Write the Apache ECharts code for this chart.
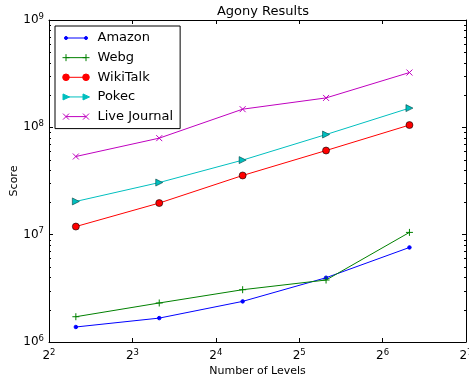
<!DOCTYPE html>
<html><head><meta charset="utf-8">
<script src="https://cdn.jsdelivr.net/npm/echarts@6/dist/echarts.min.js"></script>
<style>html,body{margin:0;padding:0;background:#fff}#c{width:469px;height:381px}</style>
</head><body><div id="c"></div>
<script>
const levels = [5, 10, 20, 40, 80];
const amazon = [1.38e6, 1.67e6, 2.39e6, 3.97e6, 7.6e6];
const webg = [1.72e6, 2.31e6, 3.07e6, 3.78e6, 1.05e7];
const wikiTalk = [1.19e7, 1.97e7, 3.56e7, 6.08e7, 1.05e8];
const pokec = [2.04e7, 3.06e7, 4.95e7, 8.57e7, 1.51e8];
const liveJournal = [5.35e7, 7.93e7, 1.476e8, 1.88e8, 3.24e8];
const seriesNames = ['Amazon', 'Webg', 'WikiTalk', 'Pokec', 'Live Journal'];
const yMinorMultipliers = [2, 3, 4, 5, 6, 7, 8, 9];
const yDecades = [1e6, 1e7, 1e8];

const FONT = 'DejaVu Sans';
const pair = arr => arr.map((v, i) => [levels[i], v]);

const supRich = {
  b: { fontSize: 12, fontFamily: FONT, color: '#000', lineHeight: 16 },
  s: { fontSize: 8.5, fontFamily: FONT, color: '#000', verticalAlign: 'top', lineHeight: 10 }
};

function mk(name, data, color, symbol, size, extra) {
  return Object.assign({
    name, type: 'line', data: pair(data), symbol, symbolSize: size,
    showSymbol: true,
    lineStyle: { color, width: 1 },
    itemStyle: { color, borderColor: color, borderWidth: 1 },
    emphasis: { disabled: true }, animation: false
  }, extra || {});
}

// Legend icons (matplotlib style: line with a marker at each end), 27x7 box
const BOX = 'M0,0M27,7';
const LINE = 'M3.5,3.5L23.5,3.5';
const circ = (cx, r) => `M${cx - r},3.5A${r},${r},0,1,1,${cx + r},3.5A${r},${r},0,1,1,${cx - r},3.5Z`;
const legendIcons = {
  'Amazon': 'path://' + BOX + LINE + circ(3.5, 1.5) + circ(23.5, 1.5),
  'Webg': 'path://' + BOX + LINE + 'M3.5,0L3.5,7M0,3.5L7,3.5M23.5,0L23.5,7M20,3.5L27,3.5',
  'WikiTalk': 'path://' + BOX + LINE + circ(3.5, 3.3) + circ(23.5, 3.3),
  'Pokec': 'path://' + BOX + LINE + 'M0.5,0.5L7,3.5L0.5,6.5ZM20.5,0.5L27,3.5L20.5,6.5Z',
  'Live Journal': 'path://' + BOX + LINE + 'M0.5,0.5L6.5,6.5M6.5,0.5L0.5,6.5M20.5,0.5L26.5,6.5M26.5,0.5L20.5,6.5'
};
const legendStyles = {
  'Amazon': { color: '#0000ff', borderColor: '#0000ff', borderWidth: 1 },
  'Webg': { color: 'none', borderColor: '#008000', borderWidth: 1 },
  'WikiTalk': { color: '#ff0000', borderColor: '#ff0000', borderWidth: 1 },
  'Pokec': { color: '#00bfbf', borderColor: '#00bfbf', borderWidth: 1 },
  'Live Journal': { color: 'none', borderColor: '#bf00bf', borderWidth: 1 }
};

const chart = echarts.init(document.getElementById('c'), null, { renderer: 'canvas' });
const axisCommon = {
  type: 'log',
  axisLine: { show: true, lineStyle: { color: '#000', width: 1 } },
  axisTick: { show: true, inside: true, length: 4, lineStyle: { color: '#000' } },
  splitLine: { show: false },
  minorTick: { show: false }
};
chart.setOption({
  animation: false,
  title: { text: 'Agony Results', left: 258, textAlign: 'center', top: 0,
    textStyle: { fontFamily: FONT, fontSize: 13, fontWeight: 'normal', color: '#000' } },
  grid: { left: 49, right: 3, top: 20, bottom: 39, outerBoundsMode: 'none', containLabel: false },
  legend: {
    data: seriesNames.map(n => ({ name: n, icon: legendIcons[n], itemStyle: legendStyles[n] })),
    orient: 'vertical', left: 55, top: 26,
    padding: [4, 7, 4, 5], itemGap: 3.65, itemWidth: 27, itemHeight: 7,
    symbolKeepAspect: true,
    backgroundColor: '#fff', borderColor: '#000', borderWidth: 1, borderRadius: 0,
    textStyle: { fontFamily: FONT, fontSize: 13, color: '#000', padding: [0, 0, 0, 3], lineHeight: 16 },
    selectedMode: false
  },
  xAxis: [
    Object.assign({}, axisCommon, { logBase: 2, min: 4, max: 128, position: 'bottom',
      name: 'Number of Levels', nameLocation: 'middle', nameGap: 24, nameMoveOverlap: false,
      nameTextStyle: { fontFamily: FONT, fontSize: 11, color: '#000' },
      axisLabel: { margin: 6, formatter: v => '{b|2}{s|' + Math.round(Math.log2(v)) + '}', rich: supRich } }),
    Object.assign({}, axisCommon, { logBase: 2, min: 4, max: 128, position: 'top',
      axisLabel: { show: false } })
  ],
  yAxis: [
    Object.assign({}, axisCommon, { logBase: 10, min: 1e6, max: 1e9, position: 'left',
      name: 'Score', nameLocation: 'middle', nameGap: 29, nameMoveOverlap: false,
      nameTextStyle: { fontFamily: FONT, fontSize: 11, color: '#000' },
      axisLabel: { margin: 5, formatter: v => '{b|10}{s|' + Math.round(Math.log10(v)) + '}', rich: supRich } }),
    Object.assign({}, axisCommon, { logBase: 10, min: 1e6, max: 1e9, position: 'right',
      axisLabel: { show: false } })
  ],
  series: [
    mk('Amazon', amazon, '#0000ff', 'circle', 3.5),
    mk('Webg', webg, '#008000', 'path://M5,0L5,10M0,5L10,5', 7, { itemStyle: { color: 'none', borderColor: '#008000', borderWidth: 1 } }),
    mk('WikiTalk', wikiTalk, '#ff0000', 'circle', 7, { itemStyle: { color: '#ff0000', borderColor: '#000', borderWidth: 0.6 } }),
    mk('Pokec', pokec, '#00bfbf', 'path://M0,0L10,5L0,10Z', 7, { itemStyle: { color: '#00bfbf', borderColor: '#004040', borderWidth: 0.6 } }),
    mk('Live Journal', liveJournal, '#bf00bf', 'path://M0,0L10,10M10,0L0,10', 6, { itemStyle: { color: 'none', borderColor: '#bf00bf', borderWidth: 1 } })
  ]
});

// Minor log ticks on the y axes (matplotlib style), positioned by the axis scale
const g = [];
const xl = chart.convertToPixel({ xAxisIndex: 0 }, 4);
const xr = chart.convertToPixel({ xAxisIndex: 0 }, 128);
yDecades.forEach(d => yMinorMultipliers.forEach(m => {
  const y = Math.round(chart.convertToPixel({ yAxisIndex: 0 }, d * m)) + 0.5;
  g.push({ type: 'line', shape: { x1: xl, y1: y, x2: xl + 2, y2: y }, style: { stroke: '#000', lineWidth: 1 }, silent: true });
  g.push({ type: 'line', shape: { x1: xr - 2, y1: y, x2: xr, y2: y }, style: { stroke: '#000', lineWidth: 1 }, silent: true });
}));
chart.setOption({ graphic: g });
</script></body></html>
